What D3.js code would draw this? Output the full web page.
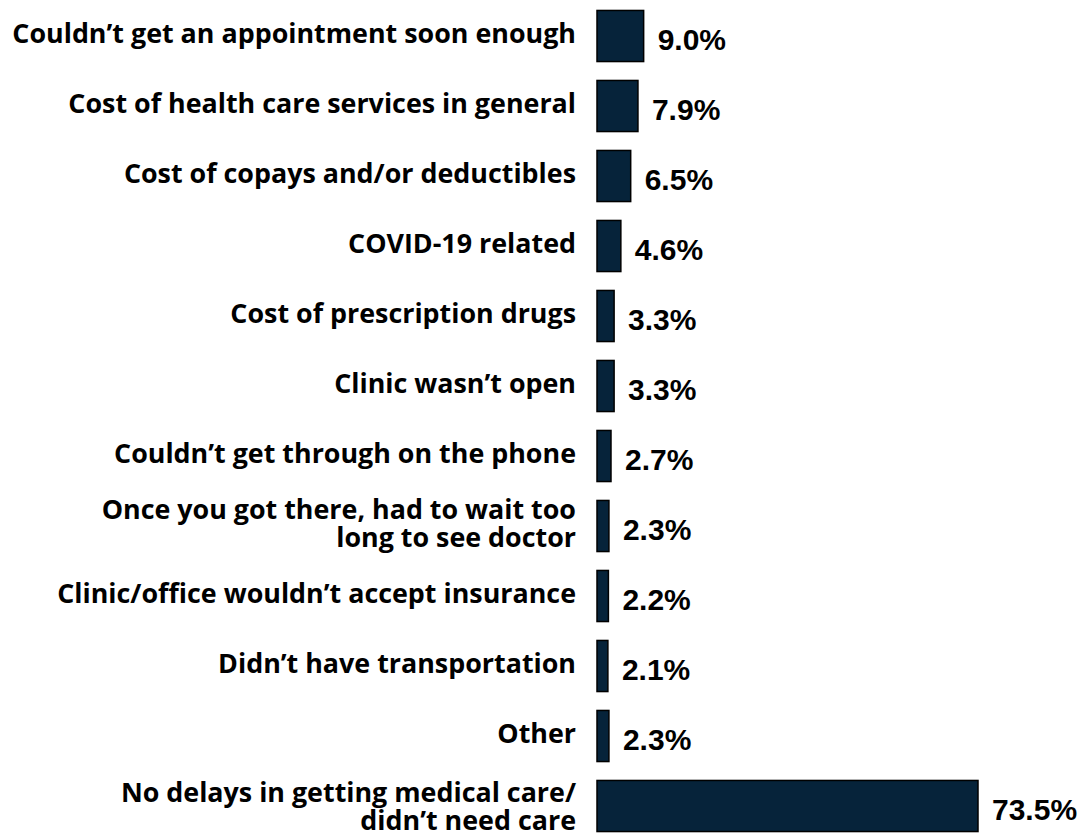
<!DOCTYPE html>
<html><head><meta charset="utf-8">
<script src="https://cdn.jsdelivr.net/npm/d3@7"></script>
<style>body{margin:0;background:#fff}</style>
</head><body>
<svg id="chart" width="1084" height="837"></svg>
<script>
const categories = [
  ["Couldn\u2019t get an appointment soon enough"],
  ["Cost of health care services in general"],
  ["Cost of copays and/or deductibles"],
  ["COVID-19 related"],
  ["Cost of prescription drugs"],
  ["Clinic wasn\u2019t open"],
  ["Couldn\u2019t get through on the phone"],
  ["Once you got there, had to wait too", "long to see doctor"],
  ["Clinic/office wouldn\u2019t accept insurance"],
  ["Didn\u2019t have transportation"],
  ["Other"],
  ["No delays in getting medical care/", "didn\u2019t need care"]
];
const values = [9.0, 7.9, 6.5, 4.6, 3.3, 3.3, 2.7, 2.3, 2.2, 2.1, 2.3, 73.5];
const valueLabels = ["9.0%","7.9%","6.5%","4.6%","3.3%","3.3%","2.7%","2.3%","2.2%","2.1%","2.3%","73.5%"];

const svg = d3.select("#chart");
const x0 = 597;
const x = d3.scaleLinear().domain([0, 73.5]).range([x0, 978]);
const idx = d3.range(values.length);
const y = d3.scaleBand().domain(idx).range([1, 841]).paddingInner(0.27).paddingOuter(0.135);

svg.selectAll("rect.bar").data(idx).join("rect")
  .attr("class","bar")
  .attr("x", x0)
  .attr("y", i => y(i))
  .attr("width", i => x(values[i]) - x0)
  .attr("height", y.bandwidth())
  .attr("fill", "#06233a")
  .attr("stroke", "#000")
  .attr("stroke-width", 1.5);

svg.selectAll("text.val").data(idx).join("text")
  .attr("class","val")
  .attr("x", i => x(values[i]) + 14)
  .attr("y", i => y(i) + y.bandwidth()/2 + 14)
  .attr("font-family", "'Liberation Sans', Arial, sans-serif")
  .attr("font-weight", "bold")
  .attr("font-size", 30)
  .attr("fill", "#000")
  .text(i => valueLabels[i]);

const labelFont = "'Open Sans', 'Noto Sans', sans-serif";
const catG = svg.append("g");
const cats = catG.selectAll("text.cat").data(idx).join("text")
  .attr("class","cat")
  .attr("text-anchor","end")
  .attr("font-family", labelFont)
  .attr("font-weight", "bold")
  .attr("font-size", 21)
  .attr("fill", "#000");
cats.each(function(i){
  const lines = categories[i];
  const n = lines.length;
  const lh = 28;
  const cy = y(i) + y.bandwidth()/2;
  const shift = (i === values.length - 1) ? 3 : 0;
  d3.select(this).selectAll("tspan").data(lines).join("tspan")
    .attr("x", 576)
    .attr("y", (d, k) => cy + 7 + shift + (k - (n-1)/2) * lh)
    .text(d => d);
});
// fit font size so the longest label matches reference width
const w0 = cats.nodes()[0].getComputedTextLength();
const fs = 21 * 564 / w0;
cats.attr("font-size", fs);
</script>
</body></html>
